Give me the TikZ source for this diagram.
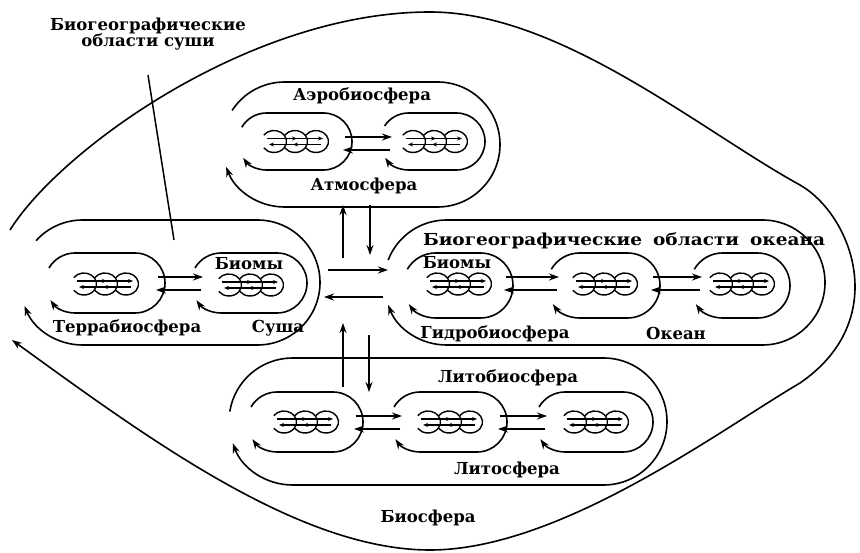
\documentclass[tikz,border=0pt]{standalone}
\usepackage{fontspec}
\setmainfont{DejaVu Serif}
\newfontfamily\widefont[FakeStretch=1.12]{DejaVu Serif}
\usetikzlibrary{arrows.meta}
\tikzset{
  bub/.style={line width=1.6pt, -{Stealth[length=10pt,width=7pt]}},
  flow/.style={line width=1.5pt, -{Stealth[length=10pt,width=7pt]}},
  eco/.style={line width=1.4pt},
  ecoar/.style={line width=1.1pt, -{Stealth[length=5pt,width=4pt]}},
  lbl/.style={font=\fontsize{16.5}{20}\selectfont\bfseries, inner sep=0pt, align=center},
}
% L, T, R, B, start angle, end angle
\newcommand\loopbox[6]{%
  \pgfmathsetmacro\rr{(#4-#2)/2}%
  \pgfmathsetmacro\cyy{(#2+#4)/2}%
  \draw[bub] ({#1+\rr+\rr*cos(#5)},{\cyy+\rr*sin(#5)})
    arc[start angle=#5, end angle=270, radius=\rr]
    -- ({#3-\rr},#2)
    arc[start angle=270, end angle=450, radius=\rr]
    -- ({#1+\rr},#4)
    arc[start angle=90, end angle=#6, radius=\rr];
}
% ecosystem symbol at cx, cy
\newcommand\ecosym[2]{%
  \foreach \k in {-21,0,21}{%
    \draw[eco] ({#1+(\k)+12.5*cos(215)},{#2+11*sin(215)})
      arc[start angle=215, end angle=505, x radius=12.5, y radius=11];
  }%
  \draw[ecoar] ({#1-28},{#2-3}) -- ({#1+2},{#2-3});
  \draw[ecoar] ({#1},{#2-3}) -- ({#1+28},{#2-3});
  \draw[ecoar] ({#1+26},{#2+3}) -- ({#1-2},{#2+3});
  \draw[ecoar] ({#1},{#2+3}) -- ({#1-26},{#2+3});
}
% arrows between inner bubbles: R of left, L of right, cy
\newcommand\pairarrows[3]{%
  \coordinate (pa) at ({#1-7},{#3-6});
  \coordinate (pb) at ({#2+12},{#3-6});
  \coordinate (pc) at ({#2+10},{#3+7});
  \coordinate (pd) at ({#1-9},{#3+7});
  \draw[flow] (pa) -- (pb);
  \draw[flow] (pc) -- (pd);
}
\begin{document}
\begin{tikzpicture}[x=1pt, y=-1pt]
\useasboundingbox (0,0) rectangle (860,553);

% Biosphere outline
\draw[bub] (10,230) .. controls (60,150) and (250,12) .. (430,12)
  .. controls (560,12) and (700,130) .. (800,185)
  .. controls (852,215) and (892,320) .. (800,383)
  .. controls (720,430) and (560,550) .. (430,550)
  .. controls (300,550) and (150,440) .. (12,340);

% Aerobiosphere
\loopbox{222}{82}{500}{207}{213}{159}
\loopbox{238}{113}{352}{170}{210}{145}
\loopbox{380}{113}{485}{170}{213}{145}
\ecosym{295}{141.5}
\ecosym{434}{141.5}
\pairarrows{352}{380}{143}

% Terrabiosphere
\loopbox{20}{220}{320}{345}{222}{158}
\loopbox{45}{253}{165}{313}{210}{145}
\loopbox{191}{253}{307}{313}{210}{145}
\ecosym{105}{284}
\ecosym{250}{285}
\pairarrows{165}{191}{283}

% Hydrobiosphere
\loopbox{384}{220}{825}{345}{201}{159}
\loopbox{403}{253}{513}{318}{210}{145}
\loopbox{547}{253}{660}{318}{210}{145}
\loopbox{690}{253}{790}{318}{210}{145}
\ecosym{458}{284}
\ecosym{604}{284}
\ecosym{741}{284}
\pairarrows{513}{547}{283}
\pairarrows{660}{690}{283}

% Lithobiosphere
\loopbox{229}{358}{667}{485}{189}{160}
\loopbox{247}{392}{363}{452}{210}{145}
\loopbox{390}{392}{507}{452}{210}{145}
\loopbox{535}{392}{653}{452}{210}{145}
\ecosym{305}{422}
\ecosym{449}{422}
\ecosym{595}{422}
\pairarrows{363}{390}{422}
\pairarrows{507}{535}{422}

% central exchange arrows
\coordinate (c1a) at (343,258); \coordinate (c1b) at (343,205);
\coordinate (c2a) at (370,205); \coordinate (c2b) at (370,255);
\coordinate (c3a) at (328,270); \coordinate (c3b) at (388,270);
\coordinate (c4a) at (383,297); \coordinate (c4b) at (324,297);
\coordinate (c5a) at (343,387); \coordinate (c5b) at (343,323);
\coordinate (c6a) at (369,335); \coordinate (c6b) at (369,392);
\draw[flow] (c1a) -- (c1b);
\draw[flow] (c2a) -- (c2b);
\draw[flow] (c3a) -- (c3b);
\draw[flow] (c4a) -- (c4b);
\draw[flow] (c5a) -- (c5b);
\draw[flow] (c6a) -- (c6b);

% labels
\node[lbl] (land) at (148,34) {Биогеографические\\[-4pt]области суши};
\coordinate (landA) at (148,75);
\coordinate (landB) at (174,240);
\draw[line width=1.5pt] (landA) -- (landB);

\node[lbl] (aero) at (362,96) {Аэробиосфера};
\node[lbl] (atm) at (364,186) {Атмосфера};
\node[lbl] (biomT) at (249,264) {Биомы};
\node[lbl] (terra) at (127,328) {Террабиосфера};
\node[lbl] (susha) at (278,328) {Суша};
\node[lbl] (ocreg) at (624,241) {\widefont\makebox[402pt][s]{Биогеографические области океана}};
\node[lbl] (biomH) at (457,263) {Биомы};
\node[lbl] (hydro) at (495,334) {Гидробиосфера};
\node[lbl] (ocean) at (676,333) {Океан};
\node[lbl] (litho) at (508,378) {Литобиосфера};
\node[lbl] (lith) at (507,470) {Литосфера};
\node[lbl] (bio) at (428,518) {Биосфера};
\end{tikzpicture}
\end{document}
